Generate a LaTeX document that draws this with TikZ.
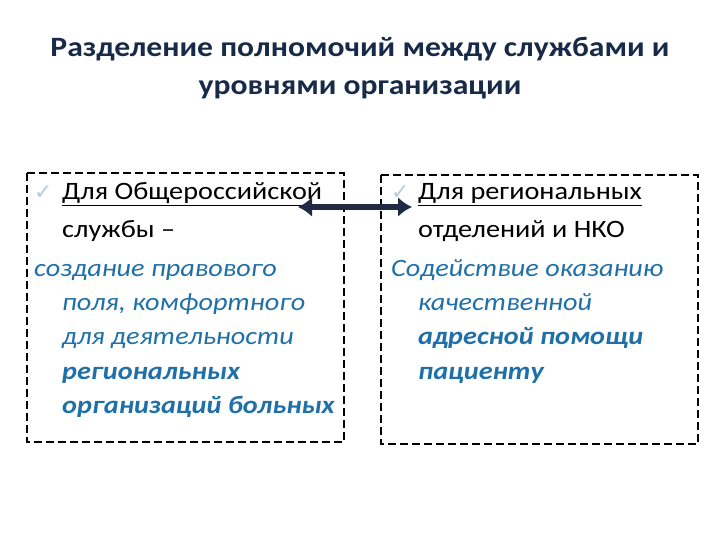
\documentclass[tikz,border=0pt]{standalone}
\usepackage{fontspec}
\setmainfont{Carlito}[FakeStretch=1.13]
\newfontfamily\djv{DejaVu Sans}
\usetikzlibrary{arrows.meta}
\definecolor{ttl}{HTML}{172A48}
\definecolor{blu}{HTML}{1F6FA8}
\definecolor{chk}{HTML}{B8CCD4}
\definecolor{arr}{HTML}{1F2A44}
\begin{document}
\begin{tikzpicture}[x=1pt,y=-1pt,
  ln/.style={anchor=base west,inner sep=0pt,font=\fontsize{25}{28}\selectfont},
  it/.style={ln,text=blu,font=\fontsize{25}{28}\selectfont\itshape},
  bi/.style={ln,text=blu,font=\fontsize{25}{28}\selectfont\itshape\bfseries},
  ck/.style={anchor=base west,inner sep=0pt,text=chk,font=\djv\fontsize{22}{24}\selectfont\bfseries},
  box/.style={draw,line width=2.2pt,dash pattern=on 8pt off 4pt}]
\useasboundingbox (0,0) rectangle (720,540);
\node[font=\fontsize{28}{38}\selectfont\bfseries,text=ttl,align=center] (t) at (360,68) {Разделение полномочий между службами и\\уровнями организации};
\draw[box] (27,173) rectangle (344,442);
\draw[box] (381,175) rectangle (698,444);
\node[ck] (c1) at (34,200) {✓};
\node[ln] (a1) at (62,200) {\underline{Для Общероссийской}};
\node[ln] (a2) at (62,237) {службы –};
\node[it] (a3) at (34,276) {создание правового};
\node[it] (a4) at (62,310) {поля, комфортного};
\node[it] (a5) at (62,344) {для деятельности};
\node[bi] (a6) at (62,379) {региональных};
\node[bi] (a7) at (62,413) {организаций больных};
\node[ck] (c2) at (391,200) {✓};
\node[ln] (b1) at (418,200) {\underline{Для региональных}};
\node[ln] (b2) at (418,237) {отделений и НКО};
\node[it] (b3) at (391,276) {Содействие оказанию};
\node[it] (b4) at (418,310) {качественной};
\node[bi] (b5) at (418,344) {адресной помощи};
\node[bi] (b6) at (418,379) {пациенту};
\coordinate (l) at (298,207);
\coordinate (r) at (412,207);
\draw[line width=6pt,arr,{Latex[length=14pt,width=20pt]}-{Latex[length=14pt,width=20pt]}] (l) -- (r);
\end{tikzpicture}
\end{document}
